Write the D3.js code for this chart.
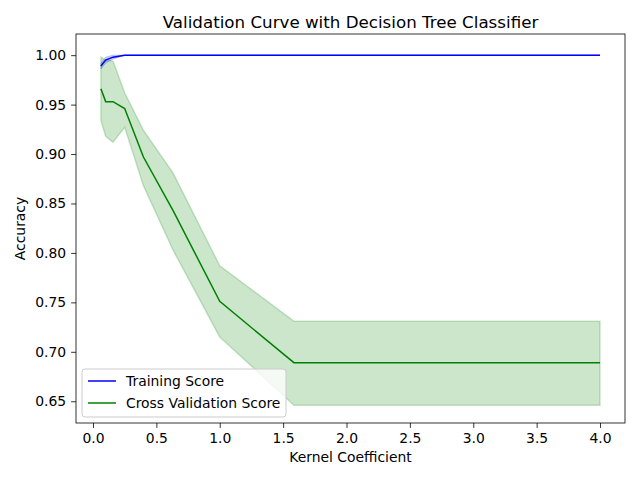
<!DOCTYPE html>
<html><head><meta charset="utf-8">
<script src="https://cdn.jsdelivr.net/npm/d3@7"></script>
<style>body{margin:0;background:#fff}text{font-family:"DejaVu Sans",sans-serif}</style>
</head><body><div id="chart"></div>
<script>
var gammas = [0.0625, 0.1, 0.158, 0.25, 0.398, 0.631, 1.0, 1.585, 2.512, 4.0];
var trainMean = [0.989, 0.995, 0.998, 1.0, 1.0, 1.0, 1.0, 1.0, 1.0, 1.0];
var trainStd  = [0.003, 0.003, 0.002, 0, 0, 0, 0, 0, 0, 0];
var testMean  = [0.966, 0.953, 0.953, 0.946, 0.897, 0.843, 0.751, 0.689, 0.689, 0.689];
var testUpper = [0.998, 0.995, 0.994, 0.962, 0.924, 0.881, 0.787, 0.731, 0.731, 0.731];
var testLower = [0.934, 0.918, 0.912, 0.927, 0.868, 0.803, 0.715, 0.646, 0.646, 0.646];
var xTicks = [0, 0.5, 1, 1.5, 2, 2.5, 3, 3.5, 4];
var yTicks = [0.65, 0.70, 0.75, 0.80, 0.85, 0.90, 0.95, 1.00];

var W = 640, H = 480, L = 76, R = 625, T = 34, B = 423;
var svg = d3.select('#chart').append('svg').attr('width', W).attr('height', H);
var x = d3.scaleLinear().domain([-0.134, 4.197]).range([L, R]);
var y = d3.scaleLinear().domain([0.628, 1.0214]).range([B, T]);

function band(lo, hi) {
  return d3.area().x(function(d, i){ return x(gammas[i]); })
    .y0(function(d, i){ return y(lo[i]); }).y1(function(d, i){ return y(hi[i]); })(gammas);
}
var line = d3.line().x(function(d, i){ return x(gammas[i]); }).y(function(d){ return y(d); });

svg.append('path').attr('d', band(trainMean.map(function(m,i){return m-trainStd[i];}), trainMean.map(function(m,i){return Math.min(1.0, m+trainStd[i]);})))
  .attr('fill', 'blue').attr('fill-opacity', 0.2).attr('stroke', 'blue').attr('stroke-opacity', 0.2);
svg.append('path').attr('d', band(testLower, testUpper))
  .attr('fill', 'green').attr('fill-opacity', 0.2).attr('stroke', 'green').attr('stroke-opacity', 0.2).attr('stroke-width', 1.5);
svg.append('path').attr('d', line(trainMean)).attr('fill', 'none').attr('stroke', 'blue').attr('stroke-width', 1.5);
svg.append('path').attr('d', line(testMean)).attr('fill', 'none').attr('stroke', 'green').attr('stroke-width', 1.5);

svg.append('rect').attr('x', L).attr('y', T).attr('width', R - L).attr('height', B - T)
  .attr('fill', 'none').attr('stroke', '#000').attr('stroke-width', 0.8);

var xa = svg.append('g').attr('transform', 'translate(0,' + B + ')')
  .call(d3.axisBottom(x).tickValues(xTicks).tickFormat(d3.format('.1f')).tickSize(4.9).tickPadding(4.9));
var ya = svg.append('g').attr('transform', 'translate(' + L + ',0)')
  .call(d3.axisLeft(y).tickValues(yTicks).tickFormat(d3.format('.2f')).tickSize(4.9).tickPadding(4.9));
[xa, ya].forEach(function(a){
  a.select('.domain').remove();
  a.selectAll('text').attr('font-size', 13.9).attr('fill', '#000').style('font-family', 'DejaVu Sans');
  a.selectAll('line').attr('stroke-width', 0.8);
});

svg.append('text').attr('x', (L + R) / 2).attr('y', 28).attr('text-anchor', 'middle').attr('font-size', 16.7).text('Validation Curve with Decision Tree Classifier');
svg.append('text').attr('x', (L + R) / 2).attr('y', 462).attr('text-anchor', 'middle').attr('font-size', 13.9).text('Kernel Coefficient');
svg.append('text').attr('transform', 'translate(25,' + (T + B) / 2 + ') rotate(-90)').attr('text-anchor', 'middle').attr('font-size', 13.9).text('Accuracy');

var lg = svg.append('g').attr('transform', 'translate(82,369)');
lg.append('rect').attr('width', 204).attr('height', 48).attr('rx', 3).attr('fill', '#fff').attr('fill-opacity', 0.8).attr('stroke', '#ccc');
[['Training Score', 'blue'], ['Cross Validation Score', 'green']].forEach(function(e, i){
  var yy = 12 + i * 22;
  lg.append('line').attr('x1', 6).attr('x2', 34).attr('y1', yy).attr('y2', yy).attr('stroke', e[1]).attr('stroke-width', 1.5);
  lg.append('text').attr('x', 44).attr('y', yy + 4.5).attr('font-size', 13.9).text(e[0]);
});
</script></body></html>
